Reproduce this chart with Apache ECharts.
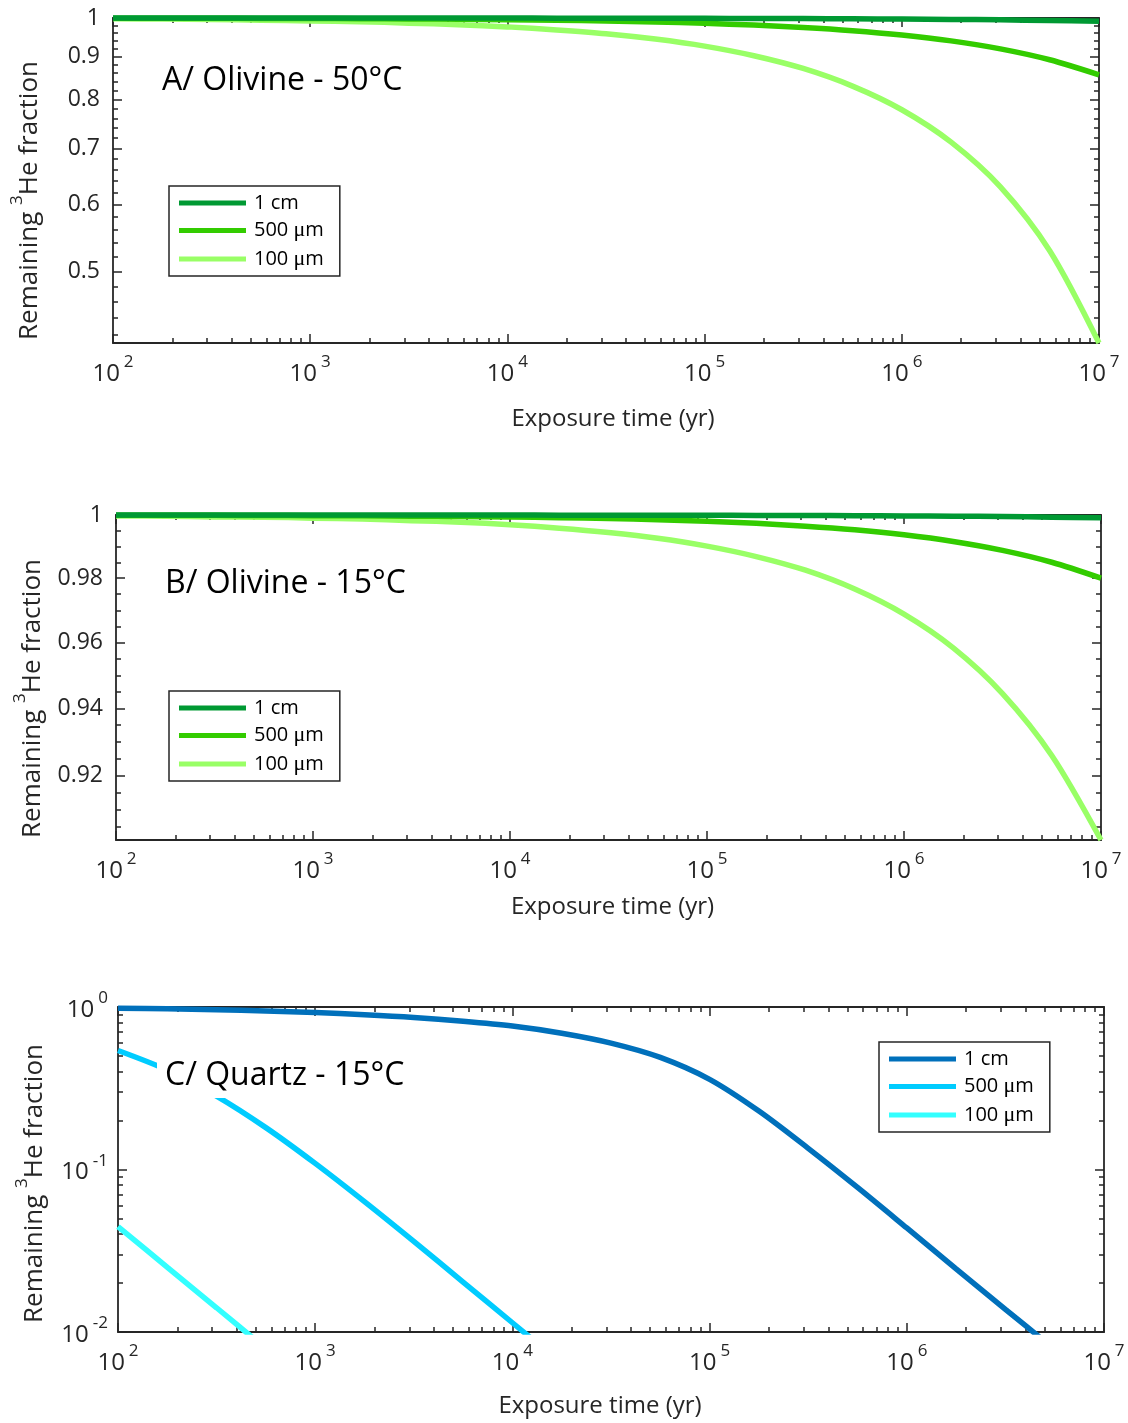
<!DOCTYPE html>
<html>
<head>
<meta charset="utf-8">
<script src="https://cdn.jsdelivr.net/npm/echarts@6/dist/echarts.min.js"></script>
<style>
html, body { margin: 0; padding: 0; background: #fff; }
#chart { width: 1128px; height: 1423px; }
</style>
</head>
<body>
<div id="chart"></div>
<script>
// exposure time (yr), quarter-decade steps 10^2 .. 10^7
var times = [100, 178, 316, 562, 1000, 1778, 3162, 5623, 10000, 17783, 31623, 56234,
  100000, 177828, 316228, 562341, 1000000, 1778279, 3162278, 5623413, 10000000];

// A/ Olivine - 50°C
var olA_1cm = [0.99997, 0.99996, 0.99995, 0.99993, 0.99991, 0.99988, 0.99984, 0.99979, 0.99972, 0.99962, 0.9995,
  0.99932, 0.9991, 0.9988, 0.9984, 0.99787, 0.99715, 0.9962, 0.99494, 0.99325, 0.991];
var olA_500 = [0.9995, 0.9994, 0.9992, 0.9989, 0.9986, 0.9981, 0.9974, 0.9966, 0.9954, 0.9939, 0.9919,
  0.9892, 0.9856, 0.9808, 0.9744, 0.9659, 0.9545, 0.9393, 0.919, 0.892, 0.856];
var olA_100 = [0.998, 0.997, 0.996, 0.994, 0.992, 0.99, 0.986, 0.982, 0.976, 0.968, 0.958,
  0.944, 0.926, 0.902, 0.871, 0.83, 0.778, 0.712, 0.63, 0.529, 0.411];

// B/ Olivine - 15°C
var olB_1cm = [1.0, 0.99999, 0.99999, 0.99998, 0.99998, 0.99998, 0.99997, 0.99997, 0.99997, 0.99996, 0.99995,
  0.99993, 0.99991, 0.99988, 0.99984, 0.99979, 0.99972, 0.99962, 0.9995, 0.99932, 0.9991];
var olB_500 = [0.99994, 0.99992, 0.99989, 0.99985, 0.9998, 0.99973, 0.99964, 0.99953, 0.99937, 0.99916, 0.99888,
  0.9985, 0.998, 0.99733, 0.99644, 0.99526, 0.99368, 0.99157, 0.98875, 0.985, 0.98];
var olB_100 = [0.9997, 0.9996, 0.9994, 0.9993, 0.999, 0.9987, 0.9982, 0.9977, 0.9969, 0.9958, 0.9944,
  0.9926, 0.9901, 0.9868, 0.9825, 0.9766, 0.9688, 0.9584, 0.9445, 0.926, 0.9013];

// C/ Quartz - 15°C (last point of each runs just past the 10^-2 floor)
var qzC_1cm = [0.982, 0.975, 0.963, 0.946, 0.924, 0.897, 0.863, 0.818, 0.764, 0.69, 0.6,
  0.49, 0.359, 0.229, 0.135, 0.0776, 0.0437, 0.0245, 0.0138, 0.0078];
var qzC_500 = [0.54, 0.409, 0.283, 0.181, 0.109, 0.0634, 0.0361, 0.0203, 0.0114, 0.0064];
var qzC_100 = [0.0445, 0.025, 0.0141, 0.0079];

// ticks
var xMajor = [1e2, 1e3, 1e4, 1e5, 1e6, 1e7];
var xMinor = [];
for (var e = 2; e < 7; e++) {
  for (var m = 2; m <= 9; m++) xMinor.push(m * Math.pow(10, e));
}
var yMajorA = [0.5, 0.6, 0.7, 0.8, 0.9, 1];
var yMinorA = [0.42, 0.44, 0.46, 0.48, 0.52, 0.54, 0.56, 0.58, 0.62, 0.64, 0.66, 0.68,
  0.72, 0.74, 0.76, 0.78, 0.82, 0.84, 0.86, 0.88, 0.92, 0.94, 0.96, 0.98];
var yMajorB = [0.92, 0.94, 0.96, 0.98, 1];
var yMinorB = [0.905, 0.91, 0.915, 0.925, 0.93, 0.935, 0.945, 0.95, 0.955, 0.965, 0.97, 0.975,
  0.985, 0.99, 0.995];
var yMajorC = [0.01, 0.1, 1];
var yMinorC = [0.02, 0.03, 0.04, 0.05, 0.06, 0.07, 0.08, 0.09, 0.2, 0.3, 0.4, 0.5, 0.6, 0.7, 0.8, 0.9];

var greens = ['#009933', '#33cc00', '#99ff66'];
var blues = ['#0070bb', '#00ccff', '#33ffff'];

var FONT = 'Open Sans';
var TXT = '#262626';

var powRich = {
  b: { fontFamily: FONT, fontSize: 24, color: TXT, lineHeight: 32, verticalAlign: 'bottom' },
  e: { fontFamily: FONT, fontSize: 17, color: TXT, lineHeight: 17, verticalAlign: 'top', padding: [0, 0, 0, 4] }
};
function fmtPow(v) {
  return '{b|10}{e|' + Math.round(Math.log10(v)) + '}';
}
function fmtDec(v) {
  return String(parseFloat(v.toFixed(3)));
}

var yName = '{t|Remaining }{s|3}{t|He fraction}';
var yNameRich = {
  t: { fontFamily: FONT, fontSize: 26, color: TXT, lineHeight: 34, verticalAlign: 'bottom' },
  s: { fontFamily: FONT, fontSize: 17, color: TXT, lineHeight: 17, verticalAlign: 'top' }
};

// four axes per side pair: main, main minor, mirror, mirror minor
function axisSet(dim, gi, min, max, major, minor, label, name) {
  var pos = dim === 'x' ? ['bottom', 'top'] : ['left', 'right'];
  var out = [];
  pos.forEach(function (p, k) {
    [major, minor].forEach(function (ticks, mi) {
      var a = {
        type: 'log', logBase: 10, gridIndex: gi, position: p, min: min, max: max,
        axisLine: { show: mi === 0, lineStyle: { color: TXT, width: 1.8 } },
        axisTick: { show: true, inside: true, length: mi === 0 ? 9 : 5, customValues: ticks,
          lineStyle: { color: TXT, width: 1.5 } },
        axisLabel: { show: false },
        splitLine: { show: false },
        silent: true
      };
      if (k === 0 && mi === 0) {
        a.axisLabel = label;
        if (name) {
          a.name = name.text;
          a.nameLocation = 'middle';
          a.nameGap = name.gap;
          a.nameTextStyle = name.style;
        }
      }
      out.push(a);
    });
  });
  return out;
}

function xLabel() {
  return { show: true, customValues: xMajor, margin: 11, formatter: fmtPow, rich: powRich };
}
function xName(gap, shift) {
  return { text: 'Exposure time (yr)', gap: gap,
    style: { fontFamily: FONT, fontSize: 24, color: TXT,
      padding: shift >= 0 ? [0, 0, 0, 2 * shift] : [0, -2 * shift, 0, 0] } };
}
function yNameOpt(gap, shift) {
  return { text: yName, gap: gap,
    style: { rich: yNameRich, padding: [0, shift, 0, 0] } };
}
function yDecLabel(ticks) {
  return { show: true, customValues: ticks, margin: 13, formatter: fmtDec,
    fontFamily: FONT, fontSize: 23, color: TXT };
}

function lineSeries(name, gi, vals, color, clip) {
  return {
    type: 'line', name: name, xAxisIndex: gi * 4, yAxisIndex: gi * 4,
    data: vals.map(function (v, i) { return [times[i], v]; }),
    symbol: 'none', showSymbol: false, smooth: 0.3, clip: clip,
    lineStyle: { color: color, width: 5.5 },
    itemStyle: { color: color },
    emphasis: { disabled: true }
  };
}

function legendText(n) {
  var parts = n.split('µ');
  if (parts.length === 1) return '{t|' + n + '}';
  return '{t|' + parts[0] + '}{mu|μ}{t|' + parts[1] + '}';
}
function legendAt(left, top, names) {
  return {
    data: names, orient: 'vertical', left: left, top: top,
    icon: 'rect', itemWidth: 67, itemHeight: 5, itemGap: 6.5,
    padding: [7, 16, 6, 10],
    borderColor: TXT, borderWidth: 1.5, backgroundColor: '#fff',
    selectedMode: false,
    formatter: function (n) { return legendText(n.split('|')[1]); },
    textStyle: {
      fontFamily: FONT, fontSize: 20, color: '#000', lineHeight: 20, padding: [0, 0, 0, 3],
      rich: {
        t: { fontFamily: FONT, fontSize: 20, color: '#000' },
        mu: { fontFamily: 'Liberation Serif', fontSize: 22, color: '#000' }
      }
    }
  };
}

function titleAt(text, left, top) {
  return {
    text: text, left: left, top: top, padding: [6, 8, 6, 8], backgroundColor: '#fff',
    textStyle: { fontFamily: FONT, fontSize: 32, fontWeight: 'normal', color: '#000' }
  };
}

var namesA = ['A|1 cm', 'A|500 µm', 'A|100 µm'];
var namesB = ['B|1 cm', 'B|500 µm', 'B|100 µm'];
var namesC = ['C|1 cm', 'C|500 µm', 'C|100 µm'];

var chart = echarts.init(document.getElementById('chart'), null, { renderer: 'canvas' });

chart.setOption({
  animation: false,
  backgroundColor: '#fff',
  title: [
    titleAt('A/ Olivine - 50°C', 154, 59),
    titleAt('B/ Olivine - 15°C', 157, 562),
    titleAt('C/ Quartz - 15°C', 157, 1054)
  ],
  legend: [
    legendAt(169, 186, namesA),
    legendAt(169, 691, namesB),
    legendAt(879, 1042, namesC)
  ],
  grid: [
    { left: 113, top: 18, width: 986, height: 325, outerBoundsMode: 'none' },
    { left: 116, top: 515, width: 985, height: 325, outerBoundsMode: 'none' },
    { left: 118, top: 1007, width: 986, height: 325, outerBoundsMode: 'none' }
  ],
  xAxis: [].concat(
    axisSet('x', 0, 100, 1e7, xMajor, xMinor, xLabel(), xName(64, 7)),
    axisSet('x', 1, 100, 1e7, xMajor, xMinor, xLabel(), xName(55, 4)),
    axisSet('x', 2, 100, 1e7, xMajor, xMinor, xLabel(), xName(62, -11))
  ),
  yAxis: [].concat(
    axisSet('y', 0, 0.411, 1, yMajorA, yMinorA, yDecLabel(yMajorA), yNameOpt(70, 40)),
    axisSet('y', 1, 0.9013, 1, yMajorB, yMinorB, yDecLabel(yMajorB), yNameOpt(70, 42)),
    axisSet('y', 2, 0.01, 1, yMajorC, yMinorC,
      { show: true, customValues: yMajorC, margin: 10, formatter: fmtPow, rich: powRich,
        padding: [0, 0, 2, 0] }, yNameOpt(70, 28))
  ),
  series: [
    lineSeries(namesA[2], 0, olA_100, greens[2], false),
    lineSeries(namesA[1], 0, olA_500, greens[1], false),
    lineSeries(namesA[0], 0, olA_1cm, greens[0], false),
    lineSeries(namesB[2], 1, olB_100, greens[2], false),
    lineSeries(namesB[1], 1, olB_500, greens[1], false),
    lineSeries(namesB[0], 1, olB_1cm, greens[0], false),
    lineSeries(namesC[2], 2, qzC_100, blues[2], true),
    lineSeries(namesC[1], 2, qzC_500, blues[1], true),
    lineSeries(namesC[0], 2, qzC_1cm, blues[0], true)
  ]
});
</script>
</body>
</html>
